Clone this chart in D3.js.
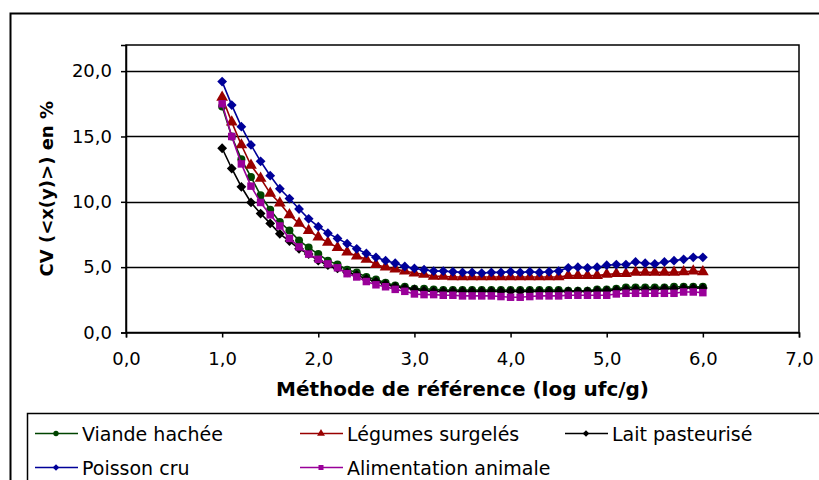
<!DOCTYPE html>
<html>
<head>
<meta charset="utf-8">
<script src="https://cdn.jsdelivr.net/npm/d3@7"></script>
<style>
  body { margin: 0; background: #fff; }
  svg { display: block; }
  .tick text { font-family: "DejaVu Sans", Verdana, sans-serif; font-size: 18px; fill: #000; }
  .axis-title { font-family: "DejaVu Sans", Verdana, sans-serif; font-weight: bold; }
  .legend-text { font-family: "DejaVu Sans", Verdana, sans-serif; font-size: 19px; }
</style>
</head>
<body>
<div id="chart"></div>
<script>
// x categories (log ufc/g)
const xValues = [1.0, 1.1, 1.2, 1.3, 1.4, 1.5, 1.6, 1.7, 1.8, 1.9,
  2.0, 2.1, 2.2, 2.3, 2.4, 2.5, 2.6, 2.7, 2.8, 2.9,
  3.0, 3.1, 3.2, 3.3, 3.4, 3.5, 3.6, 3.7, 3.8, 3.9,
  4.0, 4.1, 4.2, 4.3, 4.4, 4.5, 4.6, 4.7, 4.8, 4.9,
  5.0, 5.1, 5.2, 5.3, 5.4, 5.5, 5.6, 5.7, 5.8, 5.9, 6.0];

const viandeHachee = [17.3, 15.0, 13.25, 11.9, 10.5, 9.4, 8.45, 7.8, 7.05, 6.5,
  6.0, 5.5, 5.2, 4.8, 4.6, 4.25, 4.05, 3.8, 3.6, 3.5,
  3.35, 3.35, 3.3, 3.25, 3.25, 3.25, 3.25, 3.25, 3.25, 3.25,
  3.25, 3.25, 3.25, 3.25, 3.25, 3.25, 3.2, 3.2, 3.2, 3.3,
  3.3, 3.35, 3.45, 3.45, 3.45, 3.45, 3.45, 3.5, 3.5, 3.5, 3.5];

const legumesSurgeles = [18.0, 16.1, 14.35, 12.8, 11.8, 10.65, 9.9, 9.0, 8.35, 7.8,
  7.3, 6.9, 6.5, 6.15, 5.85, 5.6, 5.2, 5.0, 4.85, 4.7,
  4.55, 4.45, 4.3, 4.3, 4.25, 4.25, 4.25, 4.25, 4.25, 4.25,
  4.25, 4.25, 4.25, 4.25, 4.25, 4.25, 4.35, 4.35, 4.35, 4.35,
  4.45, 4.5, 4.5, 4.6, 4.6, 4.6, 4.6, 4.6, 4.65, 4.7, 4.65];

const laitPasteurise = [14.1, 12.55, 11.15, 9.95, 9.1, 8.35, 7.55, 7.0, 6.4, 6.0,
  5.5, 5.15, 4.9, 4.6, 4.4, 4.1, 3.9, 3.7, 3.5, 3.4,
  3.3, 3.2, 3.15, 3.15, 3.15, 3.15, 3.15, 3.15, 3.15, 3.15,
  3.15, 3.15, 3.15, 3.15, 3.15, 3.15, 3.15, 3.15, 3.15, 3.2,
  3.2, 3.25, 3.3, 3.3, 3.3, 3.3, 3.35, 3.35, 3.4, 3.4, 3.4];

const poissonCru = [19.2, 17.4, 15.75, 14.35, 13.1, 12.0, 11.0, 10.25, 9.45, 8.7,
  8.1, 7.6, 7.2, 6.8, 6.4, 6.05, 5.75, 5.5, 5.3, 5.05,
  4.9, 4.8, 4.7, 4.7, 4.65, 4.6, 4.6, 4.55, 4.6, 4.6,
  4.65, 4.6, 4.65, 4.6, 4.65, 4.7, 4.95, 5.0, 4.95, 5.0,
  5.15, 5.2, 5.2, 5.4, 5.3, 5.25, 5.4, 5.5, 5.6, 5.75, 5.75];

const alimentationAnimale = [17.5, 15.0, 12.9, 11.2, 9.95, 9.0, 8.15, 7.2, 6.55, 6.0,
  5.6, 5.25, 4.95, 4.5, 4.25, 3.9, 3.65, 3.5, 3.3, 3.15,
  2.95, 2.9, 2.9, 2.85, 2.85, 2.8, 2.8, 2.8, 2.8, 2.75,
  2.7, 2.7, 2.75, 2.8, 2.8, 2.8, 2.85, 2.85, 2.85, 2.85,
  2.85, 2.95, 3.0, 3.0, 3.0, 3.0, 3.0, 3.0, 3.1, 3.1, 3.05];

const seriesNames = ['Viande hachée', 'Légumes surgelés', 'Lait pasteurisé', 'Poisson cru', 'Alimentation animale'];
const seriesValues = [viandeHachee, legumesSurgeles, laitPasteurise, poissonCru, alimentationAnimale];
const seriesColors = ['#004400', '#990000', '#000000', '#000099', '#990099'];
const seriesMarkers = ['circle', 'triangle', 'diamond', 'diamond', 'square'];

const xTicks = [0, 1, 2, 3, 4, 5, 6, 7];
const yTicks = [0, 5, 10, 15, 20];

const outerWidth = 819;
const outerHeight = 480;
const plot = { left: 126, top: 45, right: 799, bottom: 332.5 };

const fmt = d => d3.format('.1f')(d).replace('.', ',');

// Excel-like markers: diamonds are rotated squares
function markerPath(kind, scale) {
  const types = {
    circle: [d3.symbolCircle, 50],
    triangle: [d3.symbolTriangle, 60],
    diamond: [d3.symbolSquare, 48],
    square: [d3.symbolSquare, 56]
  };
  const [type, size] = types[kind];
  return d3.symbol().type(type).size(size * scale)();
}
const markerRotate = kind => (kind === 'diamond' ? ' rotate(45)' : '');

const svg = d3.select('#chart')
  .append('svg')
  .attr('width', outerWidth)
  .attr('height', outerHeight);

// chart frame
svg.append('rect')
  .attr('x', 10.5).attr('y', 13.5)
  .attr('width', 840).attr('height', 520)
  .attr('fill', '#fff')
  .attr('stroke', '#000')
  .attr('stroke-width', 2);

var x = d3.scaleLinear().domain([0, 7]).range([plot.left, plot.right]);
var y = d3.scaleLinear().domain([0, 22]).range([plot.bottom, plot.top]);

// gridlines
svg.append('g')
  .selectAll('line')
  .data(yTicks.filter(d => d > 0))
  .enter()
  .append('line')
  .attr('x1', plot.left).attr('x2', plot.right)
  .attr('y1', d => Math.round(y(d)) + 0.5).attr('y2', d => Math.round(y(d)) + 0.5)
  .attr('stroke', '#000')
  .attr('stroke-width', 1.3);

// plot area border
svg.append('rect')
  .attr('x', plot.left).attr('y', plot.top)
  .attr('width', plot.right - plot.left)
  .attr('height', plot.bottom - plot.top)
  .attr('fill', 'none')
  .attr('stroke', '#000')
  .attr('stroke-width', 1.5);

// axes
const xAxis = svg.append('g')
  .attr('transform', `translate(0, ${plot.bottom})`)
  .call(d3.axisBottom(x).tickValues(xTicks).tickSize(5).tickPadding(15).tickFormat(fmt));
xAxis.select('.domain').attr('stroke', '#000').attr('stroke-width', 1.5);
xAxis.selectAll('.tick line').attr('stroke-width', 1.5);

const yAxis = svg.append('g')
  .attr('transform', `translate(${plot.left}, 0)`)
  .call(d3.axisLeft(y).tickValues(yTicks).tickSize(5).tickPadding(9).tickFormat(fmt));
yAxis.select('.domain').attr('stroke', '#000').attr('stroke-width', 1.5);
yAxis.selectAll('.tick line').attr('stroke-width', 1.5);

// axis titles
svg.append('text')
  .attr('class', 'axis-title')
  .attr('font-size', 20)
  .attr('x', (plot.left + plot.right) / 2)
  .attr('y', 396)
  .attr('text-anchor', 'middle')
  .text('Méthode de référence (log ufc/g)');

svg.append('text')
  .attr('class', 'axis-title')
  .attr('font-size', 18)
  .attr('transform', `translate(53, ${(plot.top + plot.bottom) / 2}) rotate(-90)`)
  .attr('text-anchor', 'middle')
  .text('CV (<x(y)>) en %');

// series
const line = d3.line()
  .x((d, i) => x(xValues[i]))
  .y(d => y(d));

seriesValues.forEach((values, s) => {
  const g = svg.append('g').attr('class', 'series');
  g.append('path')
    .datum(values)
    .attr('d', line)
    .attr('fill', 'none')
    .attr('stroke', seriesColors[s])
    .attr('stroke-width', 1.6);
  g.selectAll('path.marker')
    .data(values)
    .enter()
    .append('path')
    .attr('class', 'marker')
    .attr('transform', (d, i) => `translate(${x(xValues[i])}, ${y(d)})${markerRotate(seriesMarkers[s])}`)
    .attr('d', markerPath(seriesMarkers[s], 1))
    .attr('fill', seriesColors[s]);
});

// legend
const legend = svg.append('g');
legend.append('rect')
  .attr('x', 27.5).attr('y', 413.5)
  .attr('width', 830).attr('height', 100)
  .attr('fill', '#fff')
  .attr('stroke', '#000')
  .attr('stroke-width', 1.5);

const legendCols = [35, 300, 565];
const legendRows = [433.5, 467.5];

seriesNames.forEach((name, s) => {
  const lx = legendCols[s % 3];
  const ly = legendRows[Math.floor(s / 3)];
  const item = legend.append('g').attr('transform', `translate(${lx}, ${ly})`);
  item.append('line')
    .attr('x1', 0).attr('x2', 43)
    .attr('y1', 0).attr('y2', 0)
    .attr('stroke', seriesColors[s])
    .attr('stroke-width', 1.5);
  item.append('path')
    .attr('transform', 'translate(21, 0)' + markerRotate(seriesMarkers[s]))
    .attr('d', markerPath(seriesMarkers[s], 0.45))
    .attr('fill', seriesColors[s]);
  item.append('text')
    .attr('class', 'legend-text')
    .attr('x', 47)
    .attr('y', 7)
    .text(name);
});
</script>
</body>
</html>
